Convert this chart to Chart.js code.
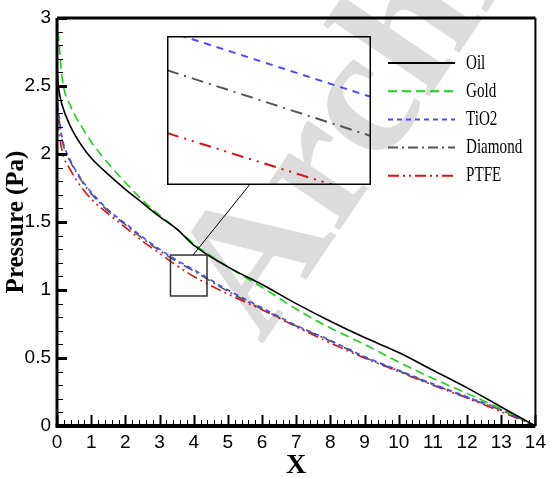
<!DOCTYPE html>
<html>
<head>
<meta charset="utf-8">
<script src="https://cdn.jsdelivr.net/npm/chart.js@4.4.0/dist/chart.umd.min.js"></script>
<style>
body { margin: 0; background: #fff; }
#wrap { position: relative; width: 551px; height: 477px; }
#inset { position: absolute; left: 167px; top: 36px; }
</style>
</head>
<body>
<div id="wrap">
<canvas id="main" width="551" height="477"></canvas>
<canvas id="inset" width="204" height="149"></canvas>
</div>
<script>
// x positions shared by all curves
var xs      = [0, 0.05, 0.15, 0.4, 0.7, 1, 1.5, 2, 2.5, 3, 3.5, 4, 5, 6, 7, 8, 9, 10, 11, 12, 13, 14]
var oil     = [2.62, 2.48, 2.36, 2.2, 2.07, 1.97, 1.85, 1.74, 1.64, 1.54, 1.45, 1.33, 1.17, 1.04, 0.90, 0.77, 0.65, 0.54, 0.41, 0.28, 0.14, 0]
var gold    = [3.0, 2.85, 2.56, 2.35, 2.21, 2.09, 1.93, 1.79, 1.66, 1.55, 1.45, 1.34, 1.17, 1.02, 0.86, 0.72, 0.60, 0.47, 0.35, 0.24, 0.125, 0]
var tio2    = [2.42, 2.3, 2.12, 1.95, 1.82, 1.72, 1.59, 1.49, 1.39, 1.30, 1.22, 1.15, 1.0, 0.87, 0.74, 0.63, 0.51, 0.41, 0.31, 0.215, 0.12, 0]
var diamond = [2.4, 2.28, 2.1, 1.94, 1.81, 1.71, 1.58, 1.48, 1.38, 1.29, 1.21, 1.14, 0.99, 0.86, 0.735, 0.625, 0.505, 0.405, 0.305, 0.21, 0.115, 0]
var ptfe    = [2.3, 2.18, 2.02, 1.88, 1.76, 1.67, 1.56, 1.46, 1.36, 1.27, 1.18, 1.10, 0.97, 0.855, 0.73, 0.61, 0.50, 0.40, 0.30, 0.205, 0.105, 0]

var labels = ['Oil', 'Gold', 'TiO2', 'Diamond', 'PTFE']
var colors = ['#000000', '#19d219', '#4a4aff', '#555555', '#dd1111']
var dashes = [[], [9, 5], [5, 4], [10, 4, 2, 4], [11, 4, 2, 4, 2, 4]]

// zoomed window (inset)
var zoomX = [3.32, 4.39]
var zoomY = [0.956, 1.257]
var insetX       = [3.32, 4.39]
var insetTiO2    = [1.267, 1.134]
var insetDiamond = [1.188, 1.055]
var insetPtfe    = [1.061, 0.932]
var connector = [[3.98, 1.257], [5.63, 1.772]]

function pts(ax, ay) { return ax.map((v, i) => ({x: v, y: ay[i]})) }

var series = [oil, gold, tio2, diamond, ptfe]
var datasets = series.map((s, i) => ({
    label: labels[i],
    data: pts(xs, s),
    borderColor: colors[i],
    borderDash: dashes[i],
    borderWidth: 1.6,
    pointRadius: 0,
    cubicInterpolationMode: 'monotone',
    fill: false
}))

var tickFont = { family: '"Liberation Sans", Arial, sans-serif', size: 19 }

var frame = {
    id: 'frame',
    beforeDatasetsDraw(chart) {
        // watermark
        var ctx = chart.ctx
        ctx.save()
        ctx.translate(262, 345)
        ctx.rotate(-56 * Math.PI / 180)
        ctx.font = 'bold 185px "Liberation Serif"'
        ctx.fillStyle = '#dcdcdc'
        ctx.fillText('Archive', 0, 0)
        ctx.restore()
    },
    afterDatasetsDraw(chart) {
        var ctx = chart.ctx, a = chart.chartArea, x = chart.scales.x, y = chart.scales.y
        ctx.save()
        ctx.strokeStyle = '#000'
        for (var i = 0; i <= 70; i++) {
            var px = Math.round(x.getPixelForValue(i * 0.2)) + 0.5
            var major = i % 5 == 0
            ctx.lineWidth = major ? 2 : 1
            ctx.beginPath(); ctx.moveTo(px, a.bottom); ctx.lineTo(px, a.bottom - (major ? 11 : 6)); ctx.stroke()
        }
        for (var j = 0; j <= 30; j++) {
            var py = Math.round(y.getPixelForValue(j * 0.1)) + 0.5
            var maj = j % 5 == 0
            ctx.lineWidth = maj ? 3 : 1
            ctx.beginPath(); ctx.moveTo(a.left, py); ctx.lineTo(a.left + (maj ? 10 : 6), py); ctx.stroke()
        }
        // frame
        ctx.lineWidth = 3
        ctx.beginPath(); ctx.moveTo(a.left, a.top); ctx.lineTo(a.right, a.top); ctx.stroke()
        ctx.beginPath(); ctx.moveTo(a.left, a.top); ctx.lineTo(a.left, a.bottom); ctx.stroke()
        ctx.lineWidth = 4
        ctx.beginPath(); ctx.moveTo(a.left - 1.5, a.bottom); ctx.lineTo(a.right, a.bottom); ctx.stroke()
        ctx.lineWidth = 2
        ctx.beginPath(); ctx.moveTo(a.right, a.top); ctx.lineTo(a.right, a.bottom); ctx.stroke()

        // zoom box and connector
        ctx.lineWidth = 1.5
        ctx.strokeStyle = '#333'
        var bx0 = x.getPixelForValue(zoomX[0]), bx1 = x.getPixelForValue(zoomX[1])
        var by0 = y.getPixelForValue(zoomY[1]), by1 = y.getPixelForValue(zoomY[0])
        ctx.strokeRect(bx0, by0, bx1 - bx0, by1 - by0)
        ctx.lineWidth = 1
        ctx.strokeStyle = '#000'
        ctx.beginPath()
        ctx.moveTo(x.getPixelForValue(connector[0][0]), y.getPixelForValue(connector[0][1]))
        ctx.lineTo(x.getPixelForValue(connector[1][0]), y.getPixelForValue(connector[1][1]))
        ctx.stroke()

        // legend
        chart.data.datasets.forEach((d, k) => {
            var ly = 63 + k * 28.2
            ctx.strokeStyle = d.borderColor
            ctx.lineWidth = 2
            ctx.setLineDash(d.borderDash)
            ctx.beginPath(); ctx.moveTo(388, ly); ctx.lineTo(455, ly); ctx.stroke()
            ctx.setLineDash([])
            ctx.save()
            ctx.translate(466, ly)
            ctx.scale(0.72, 1)
            ctx.fillStyle = '#000'
            ctx.font = '21px "Liberation Serif"'
            ctx.textBaseline = 'middle'
            ctx.fillText(d.label, 0, 0)
            ctx.restore()
        })
        ctx.restore()
    }
}

new Chart(document.getElementById('main').getContext('2d'), {
    type: 'line',
    data: { datasets: datasets },
    options: {
        responsive: false,
        animation: false,
        layout: { padding: { top: 18, right: 9, left: 0, bottom: 0 } },
        plugins: { legend: { display: false }, tooltip: { enabled: false } },
        scales: {
            x: {
                type: 'linear', min: 0, max: 14,
                grid: { display: false, drawTicks: false },
                border: { display: false },
                ticks: { stepSize: 1, padding: 5, color: '#000', maxRotation: 0, font: tickFont },
                title: { display: true, text: 'X', color: '#000', padding: { top: 0, bottom: -3 },
                         font: { family: '"Liberation Serif", serif', weight: 'bold', size: 28, lineHeight: 1 } },
                afterFit(s) { s.height = 51 }
            },
            y: {
                min: 0, max: 3,
                grid: { display: false, drawTicks: false },
                border: { display: false },
                ticks: { stepSize: 0.5, padding: 6, color: '#000', font: tickFont,
                         callback: v => String(v) },
                title: { display: true, text: 'Pressure (Pa)', color: '#000', padding: { top: 3, bottom: 0 },
                         font: { family: '"Liberation Serif", serif', weight: 'bold', size: 25, lineHeight: 1.1 } },
                afterFit(s) { s.width = 57 }
            }
        }
    },
    plugins: [frame]
})

var insetBox = {
    id: 'insetBox',
    afterDraw(chart) {
        var ctx = chart.ctx
        ctx.save()
        ctx.strokeStyle = '#000'
        ctx.lineWidth = 1.5
        ctx.strokeRect(0.75, 0.75, chart.width - 1.5, chart.height - 1.5)
        ctx.restore()
    }
}

var insetSeries = [insetTiO2, insetDiamond, insetPtfe]
new Chart(document.getElementById('inset').getContext('2d'), {
    type: 'line',
    data: {
        datasets: insetSeries.map((s, i) => ({
            label: labels[i + 2],
            data: pts(insetX, s),
            borderColor: colors[i + 2],
            borderDash: [[7, 6], [12, 6, 2, 6], [12, 6, 2, 6, 2, 6]][i],
            borderWidth: 2,
            pointRadius: 0
        }))
    },
    options: {
        responsive: false,
        animation: false,
        layout: { padding: 0 },
        plugins: { legend: { display: false }, tooltip: { enabled: false } },
        scales: {
            x: { type: 'linear', display: false, min: zoomX[0], max: zoomX[1] },
            y: { display: false, min: zoomY[0], max: zoomY[1] }
        }
    },
    plugins: [insetBox]
})
</script>
</body>
</html>
